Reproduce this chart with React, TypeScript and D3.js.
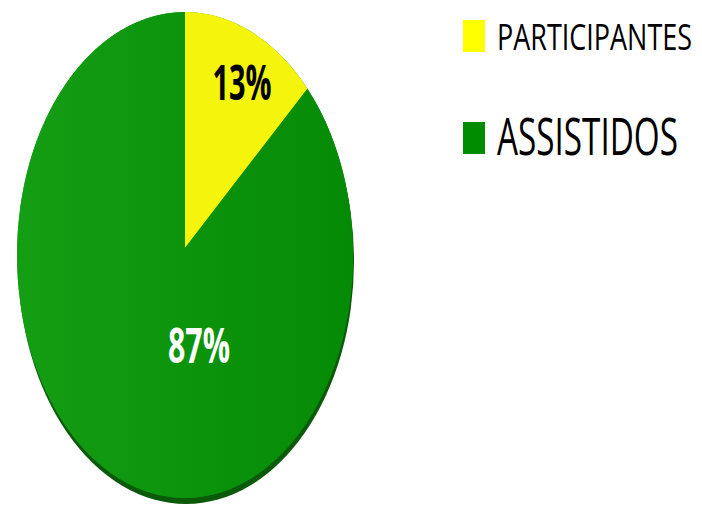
import React from "react";
import * as d3 from "d3";

const categories = ["PARTICIPANTES", "ASSISTIDOS"];
const values = [13, 87];
const labels = ["13%", "87%"];
const sliceColors = ["#f4f40c", "url(#greenGrad)"];
const legendColors = ["#ffff00", "#008c00"];

const W = 702;
const H = 509;

export default function App() {
  const cx = 185;
  const cy = 255;
  const rx = 168;
  const ry = 243;
  const apexY = 248;

  const pie = d3.pie<number>().sort(null).value((d) => d)(values);
  const pt = (a: number) => [cx + rx * Math.sin(a), cy - ry * Math.cos(a)];

  const slicePath = (p: d3.PieArcDatum<number>) => {
    const path = d3.path();
    const [x0, y0] = pt(p.startAngle);
    const [x1, y1] = pt(p.endAngle);
    const large = p.endAngle - p.startAngle > Math.PI ? 1 : 0;
    path.moveTo(cx, apexY);
    path.lineTo(x0, y0);
    const s = path.toString();
    return `${s}A${rx},${ry},0,${large},1,${x1},${y1}Z`;
  };

  const ellipsePath = (ox: number, oy: number) =>
    `M${cx + ox - rx},${cy + oy}A${rx},${ry},0,1,1,${cx + ox + rx},${cy + oy}A${rx},${ry},0,1,1,${cx + ox - rx},${cy + oy}Z`;

  const labelPos = [
    { x: 242, y: 100, fill: "#000", len: 59 },
    { x: 199, y: 363, fill: "#fff", len: 62 },
  ];

  const legend = [
    { y: 20, h: 32, tx: 497, ty: 50, size: 27, k: 1.37, len: 195 },
    { y: 122, h: 32, tx: 497, ty: 155, size: 34, k: 1.49, len: 181 },
  ];

  return (
    <svg width={W} height={H} style={{ position: "absolute", left: 0, top: 0 }}>
      <defs>
        <linearGradient id="greenGrad" x1="0" y1="0" x2="1" y2="0" gradientUnits="objectBoundingBox">
          <stop offset="0" stopColor="#149e14" />
          <stop offset="1" stopColor="#058a05" />
        </linearGradient>
      </defs>
      <rect width={W} height={H} fill="#fff" />
      <path d={ellipsePath(1, 6)} fill="#0a5a0a" />
      <path d={ellipsePath(0, 0)} fill="url(#greenGrad)" />
      {pie.map((p, i) => (
        <path key={categories[i]} d={slicePath(p)} fill={sliceColors[i]} />
      ))}
      {labels.map((l, i) => (
        <text
          key={l}
          x={labelPos[i].x}
          y={labelPos[i].y}
          textAnchor="middle"
          fontFamily="'Liberation Sans Narrow', 'Open Sans', sans-serif"
          fontWeight="bold"
          fontSize={48}
          fill={labelPos[i].fill}
          textLength={labelPos[i].len}
          lengthAdjust="spacingAndGlyphs"
        >
          {l}
        </text>
      ))}
      {categories.map((c, i) => (
        <g key={c}>
          <rect x={463} y={legend[i].y} width={22} height={legend[i].h} fill={legendColors[i]} />
          <g transform={`translate(${legend[i].tx},${legend[i].ty}) scale(1,${legend[i].k})`}>
            <text
              x={0}
              y={0}
              fontFamily="'Liberation Sans Narrow', 'Open Sans', sans-serif"
              fontSize={legend[i].size}
              fill="#000"
              textLength={legend[i].len}
              lengthAdjust="spacingAndGlyphs"
            >
              {c}
            </text>
          </g>
        </g>
      ))}
    </svg>
  );
}
